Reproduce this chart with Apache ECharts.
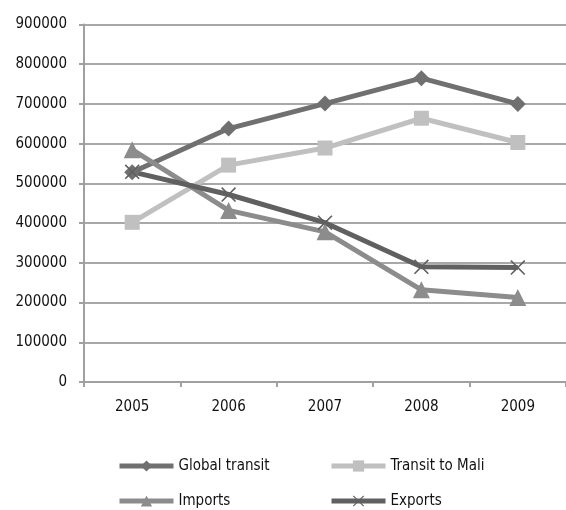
<!DOCTYPE html>
<html>
<head>
<meta charset="utf-8">
<script src="https://cdn.jsdelivr.net/npm/echarts@6/dist/echarts.min.js"></script>
<style>
  html, body { margin: 0; padding: 0; background: #fff; }
  #chart { width: 566px; height: 510px; }
</style>
</head>
<body>
<div id="chart"></div>
<script>
// Years on the category axis
const years = ['2005', '2006', '2007', '2008', '2009'];

// Tonnage per year for each flow
const globalTransit = [528000, 638000, 701000, 765000, 700000];
const transitToMali = [402000, 546000, 589000, 664000, 603000];
const imports = [585000, 432000, 378000, 232000, 213000];
const exportsData = [529000, 472000, 401000, 290000, 288000];

// Value axis range
const yMin = 0;
const yMax = 900000;
const yStep = 100000;

const FONT = '"DejaVu Sans Condensed", "Liberation Sans", Arial, sans-serif';
const crossPath = 'path://M0,1.5 L1.5,0 L10,8.5 L18.5,0 L20,1.5 L11.5,10 L20,18.5 L18.5,20 L10,11.5 L1.5,20 L0,18.5 L8.5,10 Z';

function lineSeries(name, data, color, symbol, size) {
  return {
    name: name,
    type: 'line',
    data: data,
    symbol: symbol,
    symbolSize: size,
    showAllSymbol: true,
    lineStyle: { color: color, width: 5 },
    itemStyle: { color: color, borderWidth: 0 },
    emphasis: { disabled: true }
  };
}

// One legend block per entry, laid out in two columns and two rows
function legendItem(name, left, top) {
  return {
    left: left,
    top: top,
    padding: 0,
    itemWidth: 54,
    itemHeight: 14,
    lineStyle: { width: 5 },
    textStyle: { fontFamily: FONT, fontSize: 15, color: '#111', lineHeight: 14 },
    data: [name]
  };
}

const chart = echarts.init(document.getElementById('chart'), null, { renderer: 'canvas' });
chart.setOption({
  animation: false,
  backgroundColor: '#ffffff',
  grid: { left: 84, right: 0, top: 24.5, bottom: 128, containLabel: false },
  xAxis: {
    type: 'category',
    data: years,
    boundaryGap: true,
    axisLine: { show: true, lineStyle: { color: '#a0a0a0', width: 2 } },
    axisTick: { show: true, length: 5, lineStyle: { color: '#a0a0a0', width: 2 } },
    axisLabel: { fontFamily: FONT, fontSize: 15, color: '#111', margin: 18 },
    splitLine: { show: false }
  },
  yAxis: {
    type: 'value',
    min: yMin,
    max: yMax,
    interval: yStep,
    axisLine: { show: true, lineStyle: { color: '#a0a0a0', width: 2 } },
    axisTick: { show: true, length: 5, lineStyle: { color: '#a0a0a0', width: 2 } },
    axisLabel: {
      fontFamily: FONT, fontSize: 15, color: '#111', margin: 17,
      formatter: function (v) { return String(v); }
    },
    splitLine: { show: true, lineStyle: { color: '#a8a8a8', width: 2 } }
  },
  legend: [
    legendItem('Global transit', 117, 458.5),
    legendItem('Transit to Mali', 329, 458.5),
    legendItem('Imports', 117, 493.5),
    legendItem('Exports', 329, 493.5)
  ],
  series: [
    lineSeries('Global transit', globalTransit, '#707070', 'diamond', 16),
    lineSeries('Transit to Mali', transitToMali, '#c0c0c0', 'rect', 15),
    lineSeries('Imports', imports, '#8c8c8c', 'triangle', 17),
    lineSeries('Exports', exportsData, '#606060', crossPath, 15)
  ]
});
</script>
</body>
</html>
